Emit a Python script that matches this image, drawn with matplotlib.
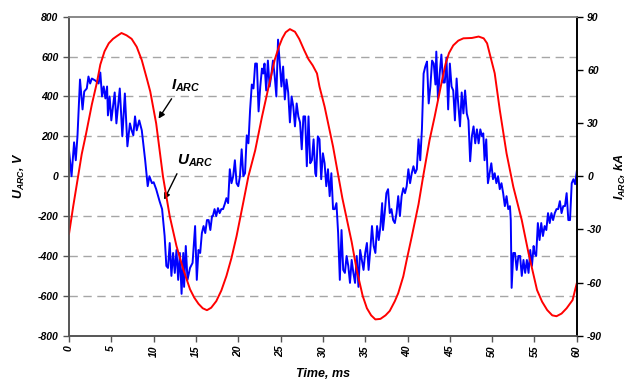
import matplotlib
matplotlib.use("Agg")
import matplotlib.pyplot as plt

plt.rcParams['font.family'] = ['Liberation Sans', 'DejaVu Sans']
plt.rcParams['mathtext.fontset'] = 'custom'
plt.rcParams['mathtext.it'] = 'Liberation Sans:bold:italic'
plt.rcParams['mathtext.rm'] = 'Liberation Sans:bold:italic'

# arc voltage, V
t_u = [0, 0.3, 0.6, 0.8, 1.0, 1.3, 1.6, 1.8, 2.1, 2.3, 2.5, 2.7, 3.1, 3.5, 3.7, 3.9, 4.1, 4.3, 4.5, 4.6,
       4.8, 5.0, 5.2, 5.4, 5.6, 5.8, 6.0, 6.3, 6.6, 6.9, 7.2, 7.4, 7.6, 7.8, 8.0, 8.3, 8.6, 8.8, 9.0, 9.3, 9.5,
       9.8, 10.0, 10.3, 10.7, 11.0, 11.3, 11.5, 11.7, 11.9, 12.1, 12.3, 12.5, 12.7, 12.9, 13.1, 13.3, 13.5,
       13.6, 13.8, 14.0, 14.3, 14.6, 14.9, 15.1, 15.3, 15.5, 15.7, 15.9, 16.1, 16.3, 16.5, 16.7, 16.9, 17.0,
       17.2, 17.4, 17.6, 17.8, 18.0, 18.2, 18.4, 18.6, 18.8, 19.0, 19.2, 19.4,
       19.6, 19.8, 20.0, 20.2, 20.4, 20.6, 20.8, 21.0, 21.2, 21.4, 21.6, 21.8, 22.0, 22.2, 22.4, 22.6, 22.8,
       22.95, 23.1, 23.3, 23.5, 23.7, 23.9, 24.1, 24.3, 24.5, 24.7, 24.9, 25.1, 25.3, 25.5, 25.7, 25.9, 26.1,
       26.3, 26.5, 26.7, 26.9, 27.1, 27.3, 27.5, 27.7, 27.9, 28.1, 28.3, 28.5, 28.7, 28.9, 29.1, 29.2, 29.4,
       29.6, 29.8, 30.0, 30.2, 30.4, 30.6, 30.8, 31.0, 31.2, 31.4, 31.6, 31.8, 32.0, 32.2, 32.4, 32.6, 32.8,
       33.0, 33.2, 33.4, 33.6, 33.8, 34.0, 34.2, 34.4, 34.6, 34.8, 35.0, 35.2, 35.4, 35.6, 35.8, 36.0, 36.2,
       36.4, 36.6, 36.8, 37.0, 37.1, 37.3, 37.5, 37.7, 37.9, 38.1, 38.3, 38.5, 38.7, 38.9, 39.1, 39.3, 39.5,
       39.7, 39.9, 40.1, 40.3, 40.5, 40.7, 40.9, 41.1, 41.3, 41.5, 41.7, 41.9, 42.1, 42.3, 42.5, 42.7, 42.9,
       43.1, 43.3, 43.4, 43.6, 43.8, 44.0, 44.2, 44.4, 44.6, 44.8, 45.0, 45.2, 45.4, 45.6, 45.8, 45.95, 46.2,
       46.4, 46.6, 46.8, 47.0, 47.2, 47.4, 47.6, 47.8, 48.0, 48.2, 48.4, 48.6, 48.8, 48.95, 49.1, 49.3, 49.5,
       49.7, 49.9, 50.1, 50.3, 50.5, 50.7, 50.9, 51.1, 51.3, 51.5, 51.7, 51.9, 52.1, 52.2, 52.3, 52.5, 52.7,
       52.9, 53.1, 53.3, 53.5, 53.7, 53.9, 54.1, 54.3, 54.5, 54.7, 54.9, 55.0, 55.2, 55.4, 55.6, 55.8, 56.0,
       56.2, 56.4, 56.6, 56.8, 57.0, 57.2, 57.4, 57.6, 57.8, 58.0, 58.2, 58.4, 58.6, 58.8, 59.0, 59.2, 59.4,
       59.6, 59.8, 60.0]
u_arc = [130, 0, 170, 80, 200, 485, 335, 425, 440, 500, 465, 490, 480, 465, 520, 400, 450, 390, 450, 305,
         400, 280, 350, 420, 265, 350, 440, 200, 415, 150, 265, 230, 205, 300, 230, 280, 230, 155, 80, -50, 0,
         -35, -30, -65, -125, -165, -300, -450, -460, -335, -500, -385, -485, -370, -520, -385, -590, -385,
         -555, -350, -520, -460, -435, -250, -520, -370, -385, -285, -250, -285, -220, -220, -270, -200, -200,
         -165, -200, -160, -185, -165, -165, -140, -110, -135, 35, -35, 0,
         80, -35, -50, 0, 135, 0, 15, 205, 165, 335, 460, 440, 565, 565, 325, 450, 540,
         515, 565, 430, 580, 450, 505, 580, 505, 400, 685, 565, 450, 550, 385, 485, 420, 270,
         400, 350, 250, 365, 300, 270, 135, 300, 300, 50, 300, 65, 80, 185, 15, 0, 200,
         185, -15, 115, 65, -50, 35, -100, 15, -165, -165, -135, -285, -520, -270, -470, -485, -400,
         -450, -535, -420, -485, -535, -400, -555, -370, -420, -470, -385, -335, -470, -370, -250, -350, -385,
         -250, -320, -250, -135, -270, -185, -85, -65, -185, -165, -220, -235, -185, -100, -200, -100, -60,
         -85, -50, 35, -35, 15, 50, 15, 35, 185, 80, 235, 515, 550, 575, 365, 450, 580,
         565, 460, 625, 385, 515, 610, 470, 470, 595, 335, 565, 450, 430, 280, 490, 385, 250,
         420, 315, 430, 315, 280, 75, 200, 250, 165, 235, 165, 235, 200, 215, 80, 185, -35,
         15, 65, -15, 15, -35, 0, -65, -35, -85, -150, -100, -165, -150, -220, -560, -385, -385,
         -470, -400, -400, -500, -420, -485, -420, -485, -370, -450, -350, -385, -400, -235, -320, -235, -300,
         -250, -270, -185, -235, -185, -220, -185, -165, -165, -125, -185, -150, -150, -85, -220, -220, -35,
         -15, -40, 25]

# arc current, kA
t_i = [0, 0.5, 1.0, 1.5, 2.0, 2.7, 3.3, 3.7, 4.2, 4.7, 5.2, 5.7, 6.2, 6.8, 7.4, 8.0, 8.6, 9.2, 9.6, 10.3,
       11.1, 11.9, 12.7, 13.5, 14.3, 14.8, 15.3, 15.8, 16.3, 16.8, 17.4, 18.0, 18.6, 19.2, 19.8, 20.6, 21.2,
       22.0, 22.8, 23.5, 24.3, 24.8, 25.2, 25.6, 26.1, 26.7, 27.2, 27.8, 28.3, 28.8, 29.3, 29.6, 30.2, 31.2,
       32.3, 33.4, 34.0, 34.7, 35.2, 35.7, 36.2, 36.8, 37.4, 37.9, 38.5, 38.9, 39.5, 39.9, 40.5, 41.3, 41.85,
       42.6, 43.2, 44.0, 44.5, 44.9, 45.4, 46.0, 46.6, 47.6, 48.4, 49.0, 49.4, 49.7, 50.3, 50.9, 51.7, 52.5,
       53.5, 54.3, 55.3, 55.9, 56.5, 57.1, 57.6, 58.2, 58.8, 59.5, 60.0]
i_arc = [-32.6, -16.9, -2.3, 12.4, 23.6, 40.5, 52.9, 63.0, 70.5, 75.0, 77.5, 79.2, 80.8, 79.5, 77.5, 73.0,
         65.5, 55.0, 47.8, 29.8, 0, -22.5, -39.4, -52.5, -63.8, -68.5, -72.0, -74.5, -75.6, -74.2, -70.5,
         -64.5, -56.3, -46.1, -33.8, -14.6, 0, 14.6, 33.5, 48.6, 65.6, 73.0, 77.8, 81.2, 83.0, 81.5, 77.5,
         71.0, 66.0, 62.5, 58.0, 50.5, 39.3, 16.7, -12.4, -37.1, -53.0, -67.5, -74.5, -78.5, -80.8, -80.5,
         -78.5, -76.0, -70.5, -66.0, -56.5, -47.3, -34.1, -15.8, 0, 20.3, 33.5, 52.3, 63.5, 69.5, 73.8, 76.5,
         77.8, 78.0, 78.8, 77.8, 75.0, 69.3, 58.1, 37.4, 12.9, -6.0, -24.8, -43.5, -64.2, -70.8, -75.5, -78.5,
         -79.0, -77.5, -74.5, -69.9, -60.4]

u_ticks = [-800, -600, -400, -200, 0, 200, 400, 600, 800]
i_ticks = [-90, -60, -30, 0, 30, 60, 90]
t_ticks = list(range(0, 61, 5))

fig = plt.figure(figsize=(6.29, 3.85), dpi=100)
ax = fig.add_axes([0.1097, 0.128, 0.8073, 0.8286])
ax2 = ax.twinx()

for v in u_ticks[1:-1]:
    ax.axhline(v, color='#a6a6a6', lw=1.0, dashes=(6, 4), zorder=0)

ax.plot(t_u, u_arc, color='#0000ff', lw=1.4, zorder=2)
ax2.plot(t_i, i_arc, color='#ff0000', lw=1.4)

ax.set_xlim(0, 60)
ax.set_ylim(-800, 800)
ax2.set_ylim(-90, 90)
ax.set_xticks(t_ticks)
ax.set_yticks(u_ticks)
ax2.set_yticks(i_ticks)

tick_font = dict(fontsize=7.5, fontweight='bold', fontstyle='italic')
ax.set_xticklabels([str(v) for v in t_ticks], rotation=90, **tick_font)
ax.set_yticklabels([str(v) for v in u_ticks], **tick_font)
ax2.set_yticklabels([str(v) for v in i_ticks], **tick_font)

ax.tick_params(axis='both', direction='out', length=4, width=1, color='#555555')
ax2.tick_params(axis='y', direction='out', length=4, width=1, color='black')
ax.tick_params(axis='x', pad=3)

for a in (ax, ax2):
    a.spines['left'].set_color('#555555')
    a.spines['bottom'].set_color('#555555')
    a.spines['top'].set_color('#888888')
    a.spines['right'].set_color('black')
    for s in a.spines.values():
        s.set_linewidth(1.2)

label_font = dict(fontsize=9, fontweight='bold', fontstyle='italic')
ax.set_xlabel('Time, ms', labelpad=8, **label_font)
ax.set_ylabel('$U_{ARC}$, V', labelpad=8, **label_font)
ax2.set_ylabel('$I_{ARC}$, kA', rotation=90, labelpad=8, **label_font)

# annotations
ax.annotate('', xy=(10.4, 277), xytext=(12.3, 400),
            arrowprops=dict(arrowstyle='-|>', color='black', lw=1.0, mutation_scale=9))
ax.text(12.1, 455, '$I_{ARC}$', fontsize=11, va='center', ha='left')
ax.annotate('', xy=(11.1, -130), xytext=(12.9, 25),
            arrowprops=dict(arrowstyle='-|>', color='black', lw=1.0, mutation_scale=9))
ax.text(12.8, 75, '$U_{ARC}$', fontsize=11, va='center', ha='left')

fig.savefig('out.png', dpi=100)
